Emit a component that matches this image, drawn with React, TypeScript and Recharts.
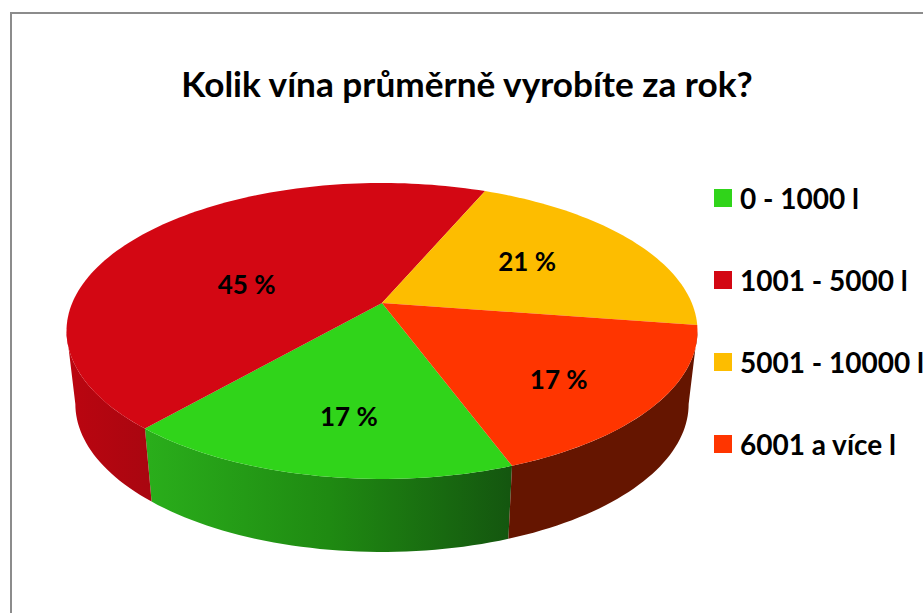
import React from 'react';
import { PieChart, Pie, Cell, Legend } from 'recharts';

const categories = ['0 - 1000 l', '1001 - 5000 l', '5001 - 10000 l', '6001 a více l'];
const shares = [17, 45, 21, 17];
const topColors = ['#30d41a', '#d30713', '#fdbd00', '#ff3500'];
const labelNudges = [[6, 15], [18, 25], [-13.5, -1], [16, 16]];

const data = categories.map((name, i) => ({ name, value: shares[i] }));

const FONT = 'Lato, "Open Sans", sans-serif';

// the pie is a circle seen in perspective, so slices get projected by hand
const TILT = 0.189;
const SQUASH = 0.4606;
const WALL_DROP = 73;
const WALL_SCALE = 0.972;
// part of the rim that faces the viewer (degrees clockwise from the right)
const FRONT_FROM = 10.9;
const FRONT_TO = 169.1;

function project(cx: number, cy: number, radius: number, deg: number, r = 1) {
  const t = (deg * Math.PI) / 180;
  const u = Math.cos(t) * r;
  const v = Math.sin(t) * r;
  const den = 1 - TILT * v;
  return { x: cx + (radius * u) / den, y: cy + (radius * SQUASH * v) / den };
}

function arcPoints(cx: number, cy: number, radius: number, from: number, to: number) {
  const steps = Math.max(2, Math.ceil(Math.abs(to - from) / 1.5));
  const pts = [];
  for (let i = 0; i <= steps; i++) {
    pts.push(project(cx, cy, radius, from + ((to - from) * i) / steps));
  }
  return pts;
}

function toPath(pts: { x: number; y: number }[]) {
  return pts.map((p, i) => `${i ? 'L' : 'M'}${p.x.toFixed(2)} ${p.y.toFixed(2)}`).join(' ') + ' Z';
}

function Slice(props: any) {
  const { cx, cy, outerRadius, startAngle, endAngle, index } = props;
  const from = -startAngle;
  const to = -endAngle;
  const top = arcPoints(cx, cy, outerRadius, from, to);

  // side wall only where the slice overlaps the front of the rim
  let wall = null;
  for (const shift of [0, -360]) {
    const a = Math.max(from + shift, FRONT_FROM);
    const b = Math.min(to + shift, FRONT_TO);
    if (b > a) {
      const upper = arcPoints(cx, cy, outerRadius, a, b);
      const lower = upper
        .map((p) => ({ x: cx + (p.x - cx) * WALL_SCALE, y: p.y + WALL_DROP }))
        .reverse();
      wall = <path d={toPath([...upper, ...lower])} fill={`url(#wall-${index})`} />;
    }
  }

  return (
    <g>
      {wall}
      <path d={toPath([{ x: cx, y: cy }, ...top])} fill={topColors[index]} />
    </g>
  );
}

function renderValue(props: any) {
  const { cx, cy, outerRadius, midAngle, index, value } = props;
  const p = project(cx, cy, outerRadius, -midAngle, 0.62);
  return (
    <text
      x={p.x + labelNudges[index][0]}
      y={p.y + labelNudges[index][1]}
      textAnchor="middle"
      dominantBaseline="central"
      fontFamily={FONT}
      fontWeight={700}
      fontSize={26}
      fill="#000"
    >
      {`${value} %`}
    </text>
  );
}

function LegendList({ payload }: any) {
  return (
    <div>
      {(payload || []).map((item: any, i: number) => (
        <div
          key={item.value}
          style={{
            display: 'flex',
            alignItems: 'center',
            height: 82,
            fontFamily: FONT,
            fontWeight: 700,
            fontSize: 28,
            color: '#000',
            whiteSpace: 'nowrap',
          }}
        >
          <span style={{ width: 18, height: 18, marginRight: 8, background: topColors[i], flex: 'none' }} />
          {item.value}
        </div>
      ))}
    </div>
  );
}

export default function App() {
  return (
    <div style={{ position: 'absolute', left: 0, top: 0, width: 923, height: 613, overflow: 'hidden', background: '#fff' }}>
      <div style={{ position: 'absolute', left: 10, top: 12, width: 930, height: 620, border: '2px solid #8c8c8c' }} />
      <div
        style={{
          position: 'absolute',
          left: 0,
          width: 934,
          top: 63,
          textAlign: 'center',
          fontFamily: FONT,
          fontWeight: 700,
          fontSize: 35.2,
          lineHeight: '40px',
          color: '#000',
        }}
      >
        Kolik vína průměrně vyrobíte za rok?
      </div>
      <PieChart
        width={923}
        height={613}
        margin={{ top: 0, right: 0, bottom: 0, left: 0 }}
        style={{ position: 'absolute', left: 0, top: 0 }}
      >
        <defs>
          <linearGradient id="wall-0" gradientUnits="userSpaceOnUse" x1="146" y1="0" x2="511" y2="0">
            <stop offset="0" stopColor="#2aae1b" />
            <stop offset="0.5" stopColor="#1f8a12" />
            <stop offset="1" stopColor="#14560f" />
          </linearGradient>
          <linearGradient id="wall-1" gradientUnits="userSpaceOnUse" x1="66" y1="0" x2="150" y2="0">
            <stop offset="0" stopColor="#bb0510" />
            <stop offset="1" stopColor="#a90610" />
          </linearGradient>
          <linearGradient id="wall-2" x1="0" y1="0" x2="1" y2="0">
            <stop offset="0" stopColor="#8a6800" />
            <stop offset="1" stopColor="#8a6800" />
          </linearGradient>
          <linearGradient id="wall-3" x1="0" y1="0" x2="1" y2="0">
            <stop offset="0" stopColor="#651500" />
            <stop offset="1" stopColor="#651500" />
          </linearGradient>
        </defs>
        <Pie
          data={data}
          dataKey="value"
          nameKey="name"
          cx={382}
          cy={303}
          outerRadius={309.8}
          startAngle={-69.8}
          endAngle={-429.8}
          stroke="none"
          shape={Slice}
          label={renderValue}
          labelLine={false}
          isAnimationActive={false}
        >
          {data.map((entry, index) => (
            <Cell key={`cell-${index}`} fill={topColors[index]} />
          ))}
        </Pie>
        <Legend
          layout="vertical"
          align="right"
          verticalAlign="top"
          content={<LegendList />}
          wrapperStyle={{ left: 714, top: 157, width: 209 }}
        />
      </PieChart>
    </div>
  );
}
